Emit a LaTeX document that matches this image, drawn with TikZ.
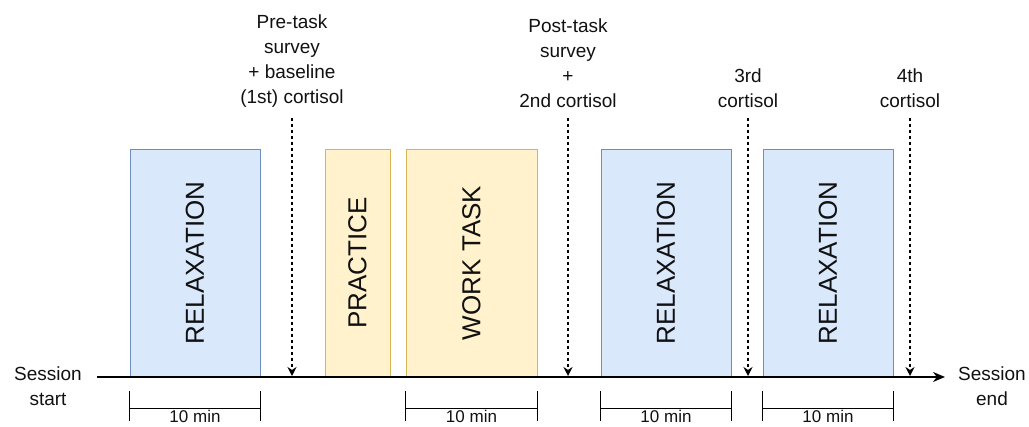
\documentclass[tikz,border=0pt]{standalone}
\usepackage{fontspec}
\setmainfont{Liberation Sans}
\usetikzlibrary{arrows.meta,calc}
\definecolor{bfill}{HTML}{DAE8FC}
\definecolor{bdraw}{HTML}{6C8EBF}
\definecolor{yfill}{HTML}{FFF2CC}
\definecolor{ydraw}{HTML}{D6B656}
\definecolor{txt}{HTML}{111111}
\tikzset{
  phase/.style={draw, line width=0.8pt, minimum height=228pt, inner sep=0pt, text=txt, font=\fontsize{26}{30}\selectfont},
  bluebox/.style={phase, fill=bfill, draw=bdraw},
  yellowbox/.style={phase, fill=yfill, draw=ydraw},
  lbl/.style={align=center, text=txt, font=\fontsize{19}{25}\selectfont, inner sep=0pt},
  durlbl/.style={text=txt, font=\fontsize{17}{20}\selectfont, inner sep=0pt},
  sample/.style={dashed, dash pattern=on 3pt off 3pt, line width=1.2pt, -{Stealth[length=9pt,width=9pt]}},
  dim/.style={line width=1.2pt},
}
\begin{document}
\begin{tikzpicture}[x=1pt,y=-1pt]
\useasboundingbox (0,0) rectangle (1029,427);
% phase boxes
\node[bluebox, minimum width=130pt] (r1) at (195,263) {\rotatebox{90}{RELAXATION}};
\node[yellowbox, minimum width=65pt] (pr) at (357.5,263) {\rotatebox{90}{PRACTICE}};
\node[yellowbox, minimum width=131pt] (wt) at (471.5,263) {\rotatebox{90}{WORK TASK}};
\node[bluebox, minimum width=130pt] (r2) at (666,263) {\rotatebox{90}{RELAXATION}};
\node[bluebox, minimum width=130pt] (r3) at (828,263) {\rotatebox{90}{RELAXATION}};
% axis
\node[lbl] (start) at (48,386) {Session\\start};
\node[lbl] (end) at (992,386) {Session\\end};
\coordinate (as) at (97,377);
\coordinate (ae) at (945,377);
\draw[line width=1.3pt, -{Stealth[length=12pt,width=10pt]}] (as) -- (ae);
% measurement points
\foreach \n/\x in {m1/292, m2/568, m3/748, m4/910}{
  \coordinate (\n t) at (\x,118);
  \coordinate (\n b) at (\x,376);
  \draw[sample] (\n t) -- (\n b);
}
\node[lbl, anchor=south] (l1) at ($(m1t)+(0,-10)$) {Pre-task\\survey\\+ baseline\\(1st) cortisol};
\node[lbl, anchor=south] (l2) at ($(m2t)+(0,-10)$) {Post-task\\survey\\+\\2nd cortisol};
\node[lbl, anchor=south] (l3) at ($(m3t)+(0,-10)$) {3rd\\cortisol};
\node[lbl, anchor=south] (l4) at ($(m4t)+(0,-10)$) {4th\\cortisol};
% 10 min dimensions
\foreach \b in {r1,wt,r2,r3}{
  \draw[dim] ($(\b.south west)+(0,14)$) -- ($(\b.south west)+(0,44)$);
  \draw[dim] ($(\b.south east)+(0,14)$) -- ($(\b.south east)+(0,44)$);
  \draw[dim] ($(\b.south west)+(0,31)$) -- ($(\b.south east)+(0,31)$);
  \node[durlbl, anchor=base] (\b d) at ($(\b.south)+(0,45)$) {10 min};
}
\end{tikzpicture}
\end{document}
